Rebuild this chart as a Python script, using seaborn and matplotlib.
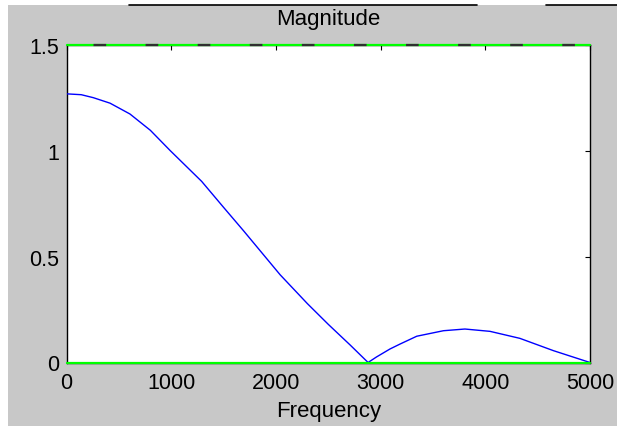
import matplotlib
matplotlib.use("Agg")
import matplotlib.pyplot as plt
from matplotlib.lines import Line2D
from matplotlib.patches import Rectangle
import seaborn as sns
import pandas as pd

# Data
freq = [0, 140, 255, 415, 605, 800, 990, 1290, 1500, 1690, 2040, 2300, 2500, 2710,
        2880, 2960, 3090, 3185, 3345, 3600, 3805, 4045, 4330, 4650, 5000]
mag = [1.268, 1.264, 1.250, 1.224, 1.173, 1.096, 1.000, 0.855, 0.732, 0.622, 0.414,
       0.278, 0.180, 0.082, 0.000, 0.026, 0.064, 0.087, 0.124, 0.150, 0.158, 0.147,
       0.114, 0.056, 0.000]
xticks = [0, 1000, 2000, 3000, 4000, 5000]
yticks = [0, 0.5, 1, 1.5]
ytick_labels = ["0", "0.5", "1", "1.5"]
title = "Magnitude"
xlabel = "Frequency"

sns.set_theme(style="white")
plt.rcParams["font.family"] = ["Liberation Sans", "DejaVu Sans"]

W, H = 617, 427
fig = plt.figure(figsize=(W / 100, H / 100), dpi=100, facecolor="white")
# grey window background (white strips at top and left as in screenshot)
fig.add_artist(Rectangle((8 / W, 0), 1 - 8 / W, (H - 6) / H, transform=fig.transFigure,
                         facecolor="#c8c8c8", edgecolor="none", zorder=0))
ytop = (H - 5.5) / H
fig.add_artist(Line2D([129 / W, 477 / W], [ytop, ytop], transform=fig.transFigure,
                      color="black", lw=1.2))
fig.add_artist(Line2D([546 / W, 1.0], [ytop, ytop], transform=fig.transFigure,
                      color="black", lw=1.2))

ax = fig.add_axes([66.6 / W, (H - 363.5) / H, (590 - 66.6) / W, (363.5 - 45.7) / H])
ax.set_facecolor("white")

df = pd.DataFrame({"Frequency": freq, "Magnitude": mag})
sns.lineplot(data=df, x="Frequency", y="Magnitude", ax=ax, color="#0000ff",
             lw=1.0, estimator=None, sort=False, zorder=3)

ax.set_xlim(0, 5000)
ax.set_ylim(0, 1.5)
ax.set_xticks(xticks)
ax.set_xticklabels([str(t) for t in xticks])
ax.set_yticks(yticks)
ax.set_yticklabels(ytick_labels)

for s in ["left", "right", "top", "bottom"]:
    ax.spines[s].set_color("black")
    ax.spines[s].set_linewidth(1.0)

ax.tick_params(direction="in", length=3.6, width=0.8, colors="black",
               top=True, right=True, labelsize=15.5, pad=5.5)
ax.tick_params(axis="x", pad=6.5)

# green reference lines at 0 and 1.5
ax.axhline(0, color="#00ff00", lw=1.6, clip_on=False, zorder=4)
ax.axhline(1.5, color="#00ff00", lw=1.6, clip_on=False, zorder=4)
lw_d = 1.6
ax.plot([0, 5000], [1.5, 1.5], color="#303030", lw=lw_d, clip_on=False, zorder=5,
        linestyle=(18.4 / lw_d, (9.1 / lw_d, 28.4 / lw_d)))

ax.set_title(title, fontsize=16, pad=15, color="black")
ax.set_xlabel(xlabel, fontsize=16, labelpad=5.5, color="black")
ax.set_ylabel("")

fig.savefig("out.png", dpi=100, facecolor=fig.get_facecolor())
